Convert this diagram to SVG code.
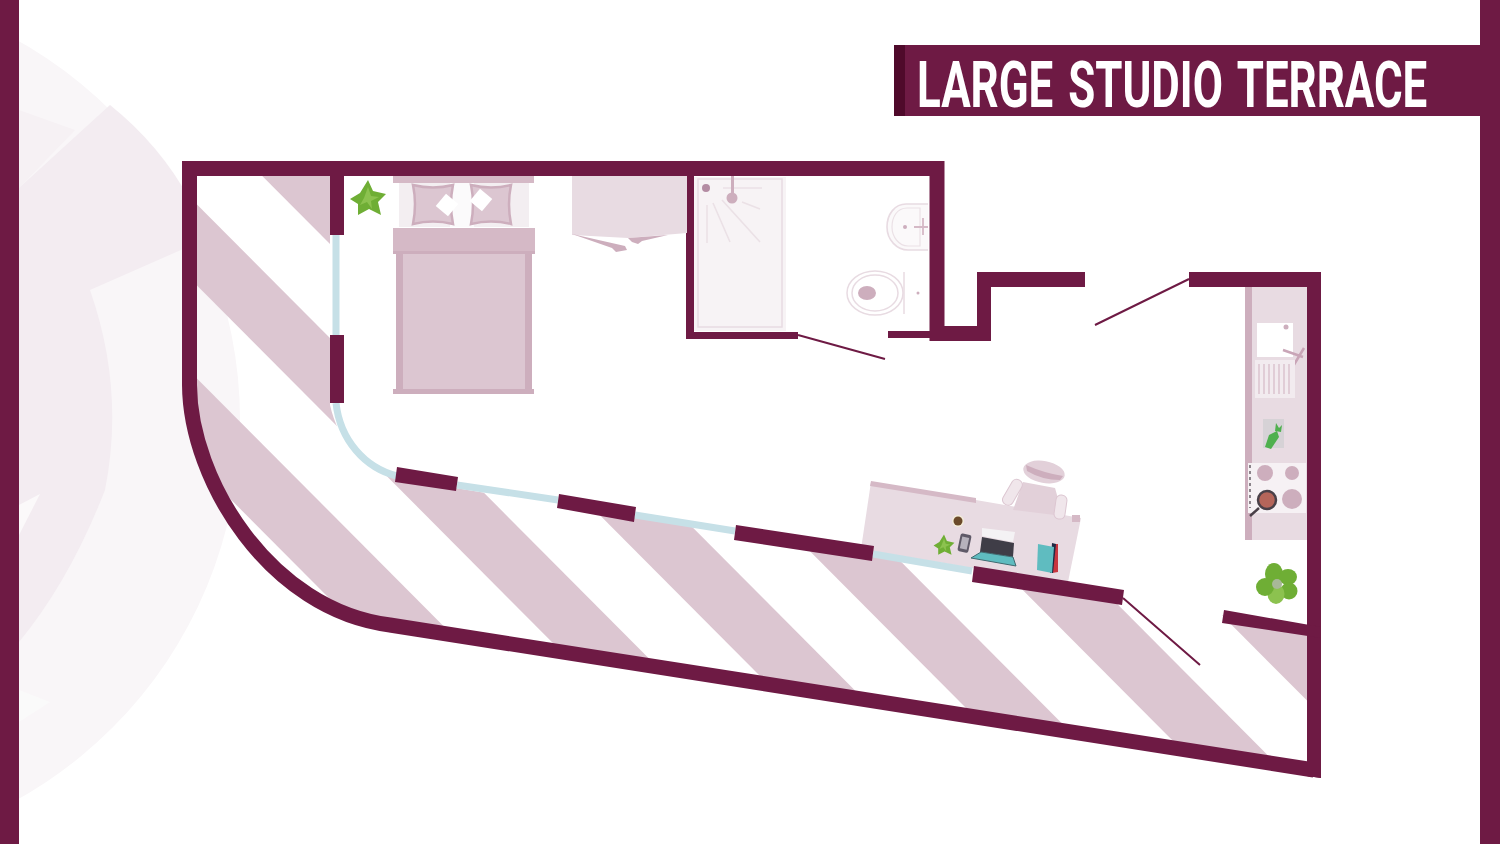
<svg xmlns="http://www.w3.org/2000/svg" width="1500" height="844" viewBox="0 0 1500 844">
<style>
.wall{fill:#6e1a44}
.ws{fill:none;stroke:#6e1a44;stroke-width:15}
.thin{fill:none;stroke:#6e1a44;stroke-width:2}
.glass{fill:none;stroke:#c6e0e7;stroke-width:7}
.band{fill:#dcc6d1}
.pale{fill:#e8dbe2}
.mid{fill:#d5b9c6}
.deep{fill:#cdaebd}
.fix{fill:none;stroke:#ebe1e6;stroke-width:1.6}
.leaf{fill:#6fae35}
.leafd{fill:#8cc24f}
.pillow{fill:#dcc6d1;stroke:#cdaebd;stroke-width:2.5}
</style>
<defs>
<clipPath id="terrace"><path d="M197,176H330V405C338,440 360,468 395,478L1123,598L1307,630V770L390,625C270,610 190,480 190,385Z"/></clipPath>
<g id="plant"><path class="leaf" d="M0,-18L5,-7L18,-4L10,4L13,17L1,11L-10,17L-10,6L-18,1L-8,-5Z"/><path class="leafd" d="M0,-11L3,-2L11,-1L3,3L4,11L-1,4L-8,7L-4,0Z"/></g>
<g id="clover">
<ellipse class="leaf" cx="-3" cy="-10" rx="9" ry="11"/>
<ellipse class="leaf" cx="11" cy="-7" rx="9" ry="8"/>
<ellipse class="leaf" cx="12" cy="7" rx="8.5" ry="8.5"/>
<ellipse class="leafd" cx="-1" cy="10" rx="8.5" ry="10"/>
<ellipse class="leaf" cx="-12" cy="3" rx="9" ry="9"/>
<circle cx="0" cy="0" r="5" fill="#a8b898"/>
</g>
</defs>
<rect width="1500" height="844" fill="#fff"/>
<g id="background">
<circle cx="-195" cy="420" r="435" fill="#f9f6f8"/>
<path d="M19,110L75,130L19,188Z" fill="#f6f1f4"/>
<path d="M19,188L110,105Q160,145 190,200V246L90,290Q125,390 105,490Q70,580 19,642Z" fill="#f3ecf1"/>
<path d="M19,505L40,494L19,535Z" fill="#fbf9fa"/>
<path d="M19,690L50,702L19,722Z" fill="#fafafa"/>
<rect x="0" y="0" width="19" height="844" class="wall"/>
<rect x="1480" y="0" width="20" height="844" class="wall"/>
</g>
<g id="terrace-stripes" clip-path="url(#terrace)">
<path class="band" d="M100,107L1400,1413V1494L100,188Z"/>
<path class="band" d="M100,281L1400,1587V1674L100,368Z"/>
<path class="band" d="M100,-68L1400,1238V1319L100,13Z"/>
<path class="band" d="M100,-243L1400,1063V1144L100,-162Z"/>
<path class="band" d="M100,-418L1400,888V969L100,-337Z"/>
<path class="band" d="M100,-593L1400,713V794L100,-512Z"/>
</g>
<g id="desk">
<path class="pale" d="M871,482L1081,518L1068,582L972,568L861,549Z"/>
<path class="mid" d="M871,481L976,498V503L870,486Z"/>
<rect class="mid" x="1072" y="515" width="8" height="7"/>
</g>
<g id="connectors">
<path class="thin" d="M798,335L885,359M1095,325L1189,279M1123,598L1200,665"/>
</g>
<g id="walls">
<path class="glass" d="M336,235V335M336,403C340,440 365,468 397,476M457,485L558,500M635,515L735,531M873,554L972,571"/>
<path class="ws" d="M189.5,161V385C190,480 270,610 390,625L1314,770"/>
<path class="wall" d="M1307,761L1321,763V778L1307,776Z"/>
<path class="ws" d="M182,168.5H937V341"/>
<rect class="wall" x="330" y="176" width="14" height="59"/>
<rect class="wall" x="330" y="335" width="14" height="68"/>
<path class="wall" d="M397,467L458,477L456,491L395,482ZM559,494L636,507L634,522L557,508ZM736,525L874,546L872,561L734,540ZM974,566L1124,590L1122,605L972,582Z"/>
<rect class="wall" x="686" y="176" width="8" height="163"/>
<rect class="wall" x="686" y="332" width="112" height="7"/>
<rect class="wall" x="888" y="331" width="44" height="7"/>
<path class="wall" d="M930,326H977V272H1085V287H991V341H930Z"/>
<path class="wall" d="M1189,272H1321V778L1307,776V287H1189Z"/>
<path class="wall" d="M1224,610L1321,627V638L1222,623Z"/>
</g>
<g id="bed">
<rect class="mid" x="393" y="176" width="141" height="7"/>
<rect x="399" y="183" width="130" height="44" fill="#f3eef1"/>
<rect x="450" y="183" width="24" height="44" fill="#fbfafb"/>
<path class="pillow" d="M413,185Q433,190 453,185Q449,204 453,224Q433,219 413,224Q417,204 413,185Z"/>
<path class="pillow" d="M471,185Q491,190 511,185Q507,204 511,224Q491,219 471,224Q475,204 471,185Z"/>
<rect x="439" y="197" width="16" height="16" fill="#fff" transform="rotate(40 447 205)"/>
<rect x="473" y="192" width="16" height="16" fill="#fff" transform="rotate(40 481 200)"/>
<rect class="mid" x="393" y="228" width="142" height="26"/>
<rect class="deep" x="393" y="251" width="142" height="3"/>
<rect class="deep" x="396" y="254" width="136" height="137"/>
<rect class="band" x="403" y="254" width="122" height="135"/>
<rect class="deep" x="393" y="389" width="141" height="5"/>
</g>
<g id="plant-bedroom"><use href="#plant" transform="translate(368,198)"/></g>
<g id="wardrobe">
<path class="pale" d="M572,176H687V233L628,238L572,235Z"/>
<path class="deep" d="M572,234L625,246L627,250L616,252L612,248ZM628,238L668,235L642,241L638,244L632,242Z"/>
</g>
<g id="shower">
<rect x="694" y="177" width="92" height="154" fill="#f7f3f5"/>
<rect x="698" y="179" width="84" height="148" fill="none" stroke="#e8dbe2" stroke-width="1.5"/>
<path class="fix" d="M707,205V243M713,203L730,242M722,200L760,242M742,202L760,209M723,188H762"/>
<rect class="deep" x="731" y="176" width="3" height="20"/>
<circle class="deep" cx="732" cy="198" r="5.5"/>
<circle cx="706" cy="188" r="4" fill="#b48ca3"/>
</g>
<g id="sink">
<path d="M928,204H906C895,204 887,214 887,227C887,240 897,250 908,250H928" fill="#fbf9fa" stroke="#e8dbe2" stroke-width="1.6"/>
<path d="M920,208H907C897,208 892,217 892,227C892,237 899,246 908,246H920Z" fill="#fbf9fa" stroke="#ebe1e6" stroke-width="1.2"/>
<circle class="deep" cx="905" cy="227" r="2"/>
<path d="M914,227H928M923,218V235" fill="none" stroke="#d5b9c6" stroke-width="1.8"/>
</g>
<g id="toilet">
<ellipse cx="875" cy="293" rx="28" ry="22" fill="#fff" stroke="#e8dbe2" stroke-width="1.5"/>
<ellipse cx="875" cy="293" rx="23" ry="18" fill="#fff" stroke="#e8dbe2" stroke-width="1.5"/>
<ellipse class="deep" cx="867" cy="293" rx="9" ry="7"/>
<path d="M904,272V314" fill="none" stroke="#e8dbe2" stroke-width="1.5"/>
<circle class="deep" cx="918" cy="293" r="1.5"/>
</g>
<g id="chair">
<path d="M1023,482L1055,488L1063,516L1013,510Z" fill="#e2d0d9"/>
<rect x="1007" y="478" width="11" height="28" rx="5" fill="#f0e6eb" stroke="#dcc6d1" transform="rotate(30 1012 492)"/>
<rect x="1055" y="495" width="11" height="24" rx="5" fill="#f0e6eb" stroke="#dcc6d1" transform="rotate(8 1060 507)"/>
<ellipse cx="1044" cy="472" rx="21" ry="11" fill="#e2d0d9" transform="rotate(10 1044 472)"/>
<path d="M1026,465Q1044,473 1063,476L1060,480Q1042,480 1027,471Z" class="deep"/>
</g>
<g id="desk-items">
<circle cx="958" cy="521" r="6" fill="#f3ecd9"/>
<circle cx="958" cy="521" r="4.5" fill="#6b4a2a"/>
<use href="#plant" transform="translate(944,545) scale(.58)"/>
<rect x="959" y="534" width="11" height="18" rx="2" fill="#5f5a68" transform="rotate(12 964 543)"/>
<rect x="961" y="537" width="7" height="12" fill="#b6b2bc" transform="rotate(12 964 543)"/>
<path d="M982,528L1015,532L1013,542L982,536Z" fill="#f4f2f4"/>
<path d="M982,537L1014,543L1013,557L980,552Z" fill="#3f3d47"/>
<path d="M981,552L1013,557L1016,566L971,558Z" fill="#5fbcc0" stroke="#3f6a70" stroke-width="1"/>
<path d="M1054,544L1058,544L1058,572L1052,573Z" fill="#c8363f"/>
<path d="M1052,543L1056,544L1053,573L1050,573Z" fill="#1f2a44"/>
<path d="M1038,544L1054,547L1052,573L1037,570Z" fill="#5fbcc0"/>
</g>
<g id="kitchen">
<rect class="pale" x="1245" y="287" width="62" height="253"/>
<rect class="deep" x="1245" y="287" width="7" height="253"/>
<rect x="1257" y="323" width="36" height="34" fill="#fff"/>
<circle class="deep" cx="1286" cy="327" r="2.5"/>
<path d="M1283,350L1303,357M1292,368L1304,348" fill="none" stroke="#c9a5b7" stroke-width="2.5"/>
<rect x="1255" y="360" width="40" height="38" fill="#f2ebef"/>
<path d="M1259,364V394M1264,364V394M1269,364V394M1274,364V394M1279,364V394M1284,364V394M1289,364V394" fill="none" stroke="#d5b9c6" stroke-width="1.2"/>
<rect x="1263" y="419" width="21" height="29" fill="#d6d2d6"/>
<path d="M1265,447L1269,435L1277,431L1279,437L1271,449Z" fill="#4fb04e"/>
<path d="M1275,431L1276,423L1279,428L1282,425L1281,432Z" fill="#4fb04e"/>
<rect x="1248" y="463" width="58" height="50" fill="#f6f1f4"/>
<circle class="deep" cx="1265" cy="473" r="8"/>
<circle class="deep" cx="1292" cy="473" r="7"/>
<circle class="deep" cx="1292" cy="499" r="10"/>
<path d="M1259,508L1250,516" stroke="#4a4048" stroke-width="2.5" fill="none"/>
<circle cx="1267" cy="500" r="9" fill="#b5655a" stroke="#4a4048" stroke-width="2.5"/>
<path d="M1250,465V508" stroke="#6a6068" stroke-width="1.5" stroke-dasharray="3 3" fill="none"/>
</g>
<g id="plant-kitchen"><use href="#clover" transform="translate(1277,584)"/></g>
<g id="title">
<rect class="wall" x="894" y="45" width="606" height="71"/>
<rect x="894" y="45" width="11" height="71" fill="#4f0a2b"/>
<text transform="translate(917,107) scale(.7,1)" x="0" y="0" font-family="Roboto, 'Liberation Sans', sans-serif" font-weight="700" font-size="65" word-spacing="6" fill="#fff" textLength="729" lengthAdjust="spacingAndGlyphs">LARGE STUDIO TERRACE</text>
</g>
</svg>
